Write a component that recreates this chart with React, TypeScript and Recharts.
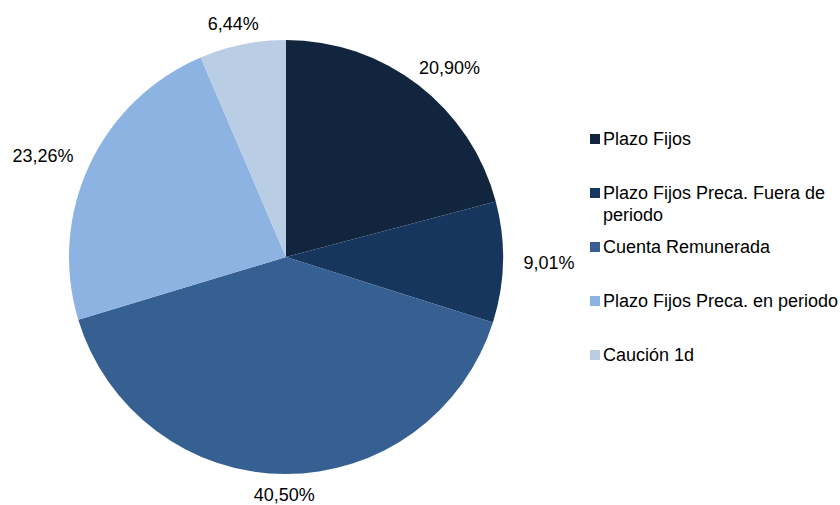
import React from 'react'
import { PieChart, Pie, Cell, Legend } from 'recharts'

const categories = [
  'Plazo Fijos',
  'Plazo Fijos Preca. Fuera de periodo',
  'Cuenta Remunerada',
  'Plazo Fijos Preca. en periodo',
  'Caución 1d'
]
const shares = [20.9, 9.01, 40.5, 23.26, 6.44]
const colors = ['#11253f', '#17365d', '#376092', '#8db3e2', '#b9cde5']

const data = categories.map((name, i) => ({ name, value: shares[i] }))

const fmt = (v: number) => v.toFixed(2).replace('.', ',') + '%'

if (typeof document !== 'undefined') {
  document.body.style.margin = '0'
}

const RADIAN = Math.PI / 180
const FONT = "'Liberation Sans', Arial, sans-serif"

// outside-end label: text box pushed out from the slice edge along the mid angle
const renderLabel = (props: any) => {
  const { cx, cy, midAngle, outerRadius, value } = props
  const text = fmt(value)
  const ux = Math.cos(-midAngle * RADIAN)
  const uy = Math.sin(-midAngle * RADIAN)
  const halfW = text.length * 5.2 + 8
  const halfH = 9
  const r = outerRadius + 12
  const x = cx + r * ux + halfW * ux
  const y = cy + r * uy + halfH * uy
  return (
    <text
      x={x}
      y={y}
      textAnchor="middle"
      dominantBaseline="central"
      fill="#000"
      fontSize={18}
      fontFamily={FONT}
    >
      {text}
    </text>
  )
}

const LegendContent = () => (
  <div style={{ fontFamily: FONT, fontSize: 18, color: '#000' }}>
    {categories.map((c, i) => (
      <div key={c} style={{ height: 54, display: 'flex', alignItems: 'flex-start' }}>
        <span
          style={{
            width: 10,
            height: 10,
            background: colors[i],
            marginTop: 6,
            marginRight: 3,
            flex: '0 0 auto'
          }}
        />
        <span style={{ width: 240, lineHeight: '22px', whiteSpace: 'normal' }}>{c}</span>
      </div>
    ))}
  </div>
)

export default function App() {
  return (
    <div style={{ width: 840, height: 505, background: '#fff' }}>
      <PieChart width={840} height={505} margin={{ top: 0, right: 0, bottom: 0, left: 0 }}>
        <Pie
          data={data}
          dataKey="value"
          nameKey="name"
          cx={286}
          cy={257}
          outerRadius={217}
          startAngle={90}
          endAngle={-270}
          stroke="none"
          label={renderLabel}
          labelLine={false}
          isAnimationActive={false}
        >
          {data.map((d, i) => (
            <Cell key={`cell-${i}`} fill={colors[i]} />
          ))}
        </Pie>
        <Legend
          content={<LegendContent />}
          wrapperStyle={{ left: 590, top: 128, width: 250 }}
          layout="vertical"
        />
      </PieChart>
    </div>
  )
}
